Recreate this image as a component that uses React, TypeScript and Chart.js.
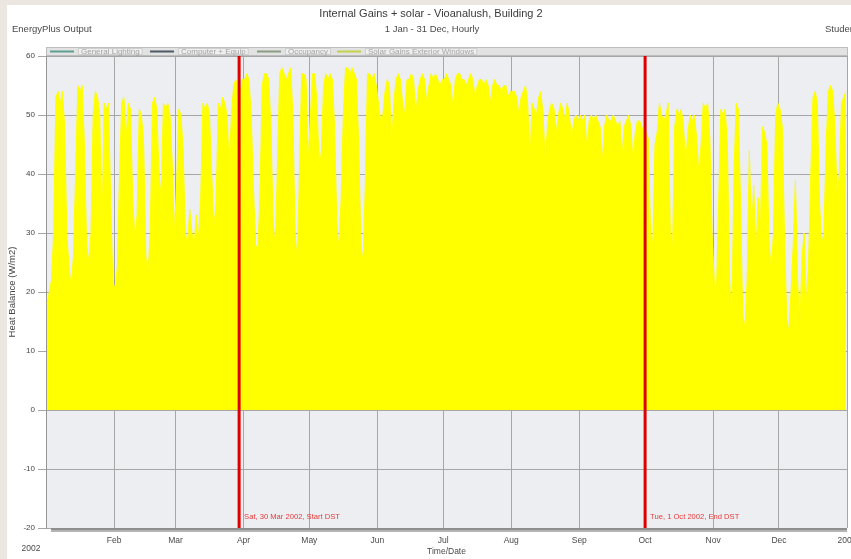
import { useEffect, useRef } from "react";
import { Chart, registerables } from "chart.js";

Chart.register(...registerables);

// Daily peak heat balance from solar gains through exterior windows (W/m2), 2002
const JAN = [18, 20, 22, 30, 53, 54, 52, 54, 48, 30, 24, 21, 26, 40, 55, 54, 55, 45, 28, 25, 30, 50, 54, 53, 50, 30, 52, 51, 52, 35, 21];
const FEB = [21, 24, 40, 52, 53, 46, 52, 51, 36, 29, 33, 51, 50, 45, 26, 23, 30, 52, 53, 51, 40, 36, 52, 51, 52, 50, 42, 30];
const MAR = [38, 51, 50, 44, 30, 28, 34, 30, 28, 33, 29, 36, 52, 51, 52, 50, 40, 31, 35, 52, 51, 53, 52, 50, 41, 50, 55, 56, 55, 54, 56];
const APR = [56, 57, 56, 50, 38, 28, 27, 36, 55, 57, 57, 56, 48, 32, 27, 42, 57, 58, 57, 56, 57, 58, 50, 30, 25, 40, 57, 57, 56, 42];
const MAY = [50, 57, 57, 52, 41, 44, 55, 57, 56, 57, 56, 48, 32, 27, 36, 50, 58, 58, 57, 58, 57, 56, 45, 28, 25, 38, 57, 57, 56, 57, 55];
const JUN = [52, 49, 50, 54, 56, 55, 45, 52, 56, 57, 56, 52, 50, 56, 56, 57, 56, 50, 54, 56, 57, 56, 52, 55, 57, 56, 57, 56, 55, 56];
const JUL = [56, 57, 56, 55, 51, 56, 57, 57, 56, 56, 55, 56, 57, 56, 53, 55, 56, 56, 55, 56, 55, 52, 55, 56, 55, 55, 54, 55, 55, 53, 54];
const AUG = [54, 54, 53, 50, 53, 54, 55, 52, 42, 52, 51, 50, 53, 54, 50, 42, 48, 51, 52, 51, 47, 50, 52, 51, 49, 52, 50, 46, 49, 50, 49];
const SEP = [50, 49, 50, 44, 49, 50, 49, 50, 49, 48, 42, 48, 50, 49, 49, 50, 49, 48, 49, 43, 48, 49, 50, 48, 42, 47, 49, 49, 48, 47];
const OCT = [47, 46, 30, 28, 45, 47, 52, 50, 49, 50, 52, 30, 27, 48, 51, 50, 51, 48, 42, 47, 50, 49, 50, 46, 40, 45, 52, 51, 52, 46, 30];
const NOV = [22, 20, 35, 51, 50, 51, 45, 22, 15, 40, 52, 51, 35, 16, 14, 22, 44, 30, 38, 26, 36, 30, 48, 47, 45, 28, 24, 30, 50, 52];
const DEC = [51, 48, 30, 16, 13, 20, 28, 39, 22, 14, 26, 30, 18, 25, 40, 53, 54, 52, 35, 28, 30, 45, 54, 55, 54, 48, 36, 40, 52, 53, 54];

// Day-of-year at which each month starts, plus year end
const MONTH_STARTS = [0, 31, 59, 90, 120, 151, 181, 212, 243, 273, 304, 334, 365];
const MONTH_LABELS = ["", "Feb", "Mar", "Apr", "May", "Jun", "Jul", "Aug", "Sep", "Oct", "Nov", "Dec", "2003"];

const Y_MIN = -20;
const Y_MAX = 60;
const Y_STEP = 10;

// Daylight saving markers (day of year)
const DST_DAYS = [88, 273];
const DST_LABELS = ["Sat, 30 Mar 2002, Start DST", "Tue, 1 Oct 2002, End DST"];

const SERIES_LABELS = ["General Lighting", "Computer + Equip", "Occupancy", "Solar Gains Exterior Windows"];
const SERIES_COLORS = ["#5f9f93", "#4f5866", "#8d9c84", "#c5d34a"];

const FONT = '"Liberation Sans", Arial, sans-serif';
const f = (size: number) => `${size}px ${FONT}`;

const decorations = {
  id: "decorations",
  beforeDraw(chart: any) {
    const { ctx, chartArea: a, width, height } = chart;
    ctx.save();
    ctx.fillStyle = "#ebe7e0";
    ctx.fillRect(0, 0, width, height);
    ctx.fillStyle = "#ffffff";
    ctx.fillRect(7, 5, width - 7, height - 5);
    ctx.fillStyle = "#eceef1";
    ctx.fillRect(a.left, a.top - 9, a.right - a.left, a.bottom - a.top + 9);
    ctx.restore();
  },
  afterDatasetsDraw(chart: any) {
    const { ctx, chartArea: a, scales } = chart;
    ctx.save();
    // heavy bottom axis band
    ctx.fillStyle = "#8e8e8e";
    ctx.fillRect(a.left + 5, a.bottom, a.right - a.left - 5, 2);
    ctx.fillStyle = "#b4b4b4";
    ctx.fillRect(a.left + 5, a.bottom + 2, a.right - a.left - 5, 2);

    // DST marker captions
    ctx.font = f(7.6);
    ctx.fillStyle = "#e83a3a";
    ctx.textBaseline = "middle";
    ctx.textAlign = "left";
    DST_DAYS.forEach((d, i) => {
      const x = scales.x.getPixelForValue(d);
      ctx.fillText(DST_LABELS[i], x + 5, a.bottom - 11);
    });

    // legend strip across the top of the plot
    const top = a.top - 9;
    ctx.fillStyle = "#e2e2e2";
    ctx.fillRect(a.left, top, a.right - a.left + 1, 9);
    ctx.strokeStyle = "#bdbdbd";
    ctx.lineWidth = 1;
    ctx.strokeRect(a.left + 0.5, top + 0.5, a.right - a.left, 8);
    const swatchX = [50, 150, 257, 337];
    ctx.font = f(8);
    chart.data.datasets.forEach((ds: any, i: number) => {
      if (i >= SERIES_LABELS.length) return;
      const sx = swatchX[i];
      ctx.strokeStyle = SERIES_COLORS[i];
      ctx.lineWidth = 2;
      ctx.beginPath();
      ctx.moveTo(sx, top + 4.5);
      ctx.lineTo(sx + 24, top + 4.5);
      ctx.stroke();
      const tx = sx + 31;
      const tw = ctx.measureText(ds.label).width;
      ctx.fillStyle = "#efefef";
      ctx.fillRect(tx - 2, top + 1, tw + 4, 7);
      ctx.strokeStyle = "#cfcfcf";
      ctx.lineWidth = 1;
      ctx.strokeRect(tx - 2.5, top + 1.5, tw + 5, 6);
      ctx.fillStyle = "#a3a3a3";
      ctx.textBaseline = "middle";
      ctx.fillText(ds.label, tx, top + 5);
    });
    ctx.restore();
  },
  afterDraw(chart: any) {
    const { ctx } = chart;
    ctx.save();
    ctx.textBaseline = "middle";
    ctx.fillStyle = "#3a3a3a";
    ctx.textAlign = "center";
    ctx.font = f(11);
    ctx.fillText("Internal Gains + solar - Vioanalush, Building 2", 431, 14);
    ctx.font = f(9.5);
    ctx.fillStyle = "#4a4a4a";
    ctx.fillText("1 Jan - 31 Dec, Hourly", 432, 29);
    ctx.textAlign = "left";
    ctx.fillText("EnergyPlus Output", 12, 29);
    ctx.fillText("Student", 825, 29);
    ctx.textAlign = "center";
    ctx.font = f(8.5);
    ctx.fillText("2002", 31, 549);
    ctx.restore();
  },
};

export default function App() {
  const ref = useRef<HTMLCanvasElement>(null);

  useEffect(() => {
    document.body.style.margin = "0";
    const canvas = ref.current;
    if (!canvas) return;

    const daily = [...JAN, ...FEB, ...MAR, ...APR, ...MAY, ...JUN, ...JUL, ...AUG, ...SEP, ...OCT, ...NOV, ...DEC];
    const solar = daily.map((v, i) => ({ x: i + 0.5, y: v }));

    const dstSets = DST_DAYS.map((d) => ({
      type: "line" as const,
      label: "DST",
      data: [
        { x: d, y: Y_MIN },
        { x: d, y: Y_MAX },
      ],
      borderColor: "#dc0000",
      borderWidth: 3,
      pointRadius: 0,
      fill: false,
      order: 0,
    }));

    const chart = new Chart(canvas, {
      type: "line",
      data: {
        datasets: [
          { label: SERIES_LABELS[0], data: [], borderColor: SERIES_COLORS[0], pointRadius: 0, order: 2 },
          { label: SERIES_LABELS[1], data: [], borderColor: SERIES_COLORS[1], pointRadius: 0, order: 2 },
          { label: SERIES_LABELS[2], data: [], borderColor: SERIES_COLORS[2], pointRadius: 0, order: 2 },
          {
            label: SERIES_LABELS[3],
            data: solar,
            borderColor: "#ffff00",
            backgroundColor: "#ffff00",
            borderWidth: 1,
            pointRadius: 0,
            tension: 0,
            fill: "origin",
            order: 1,
          },
          ...dstSets,
        ] as any,
      },
      options: {
        responsive: false,
        animation: false,
        devicePixelRatio: 1,
        layout: { padding: { top: 56, right: 4, bottom: 0, left: 0 } },
        plugins: {
          legend: { display: false },
          tooltip: { enabled: false },
          title: { display: false },
        },
        scales: {
          x: {
            type: "linear",
            min: 0,
            max: 365,
            afterBuildTicks: (s: any) => {
              s.ticks = MONTH_STARTS.map((v) => ({ value: v }));
            },
            afterFit: (s: any) => {
              s.height = 31;
              s.paddingLeft = 0;
              s.paddingRight = 0;
            },
            ticks: {
              autoSkip: false,
              maxRotation: 0,
              padding: 8,
              font: { family: FONT, size: 8.5 },
              color: "#4a4a4a",
              callback: (_v: any, i: number) => MONTH_LABELS[i],
            },
            grid: { color: "#a6a6a6", lineWidth: 1, drawTicks: false },
            border: { display: false },
            title: {
              display: true,
              text: "Time/Date",
              font: { family: FONT, size: 8.5 },
              color: "#4a4a4a",
              padding: { top: 0, bottom: 2 },
            },
          },
          y: {
            min: Y_MIN,
            max: Y_MAX,
            afterFit: (s: any) => {
              s.width = 46;
              s.paddingTop = 0;
              s.paddingBottom = 0;
            },
            ticks: {
              stepSize: Y_STEP,
              padding: 3,
              font: { family: FONT, size: 8 },
              color: "#444444",
            },
            grid: { color: "#a6a6a6", lineWidth: 1, tickLength: 8 },
            border: { display: true, color: "#959595" },
            title: {
              display: true,
              text: "Heat Balance (W/m2)",
              font: { family: FONT, size: 9.5 },
              color: "#444444",
              padding: { top: 7, bottom: 0 },
            },
          },
        },
      },
      plugins: [decorations],
    });

    return () => chart.destroy();
  }, []);

  return <canvas ref={ref} width={851} height={559} style={{ display: "block" }} />;
}
